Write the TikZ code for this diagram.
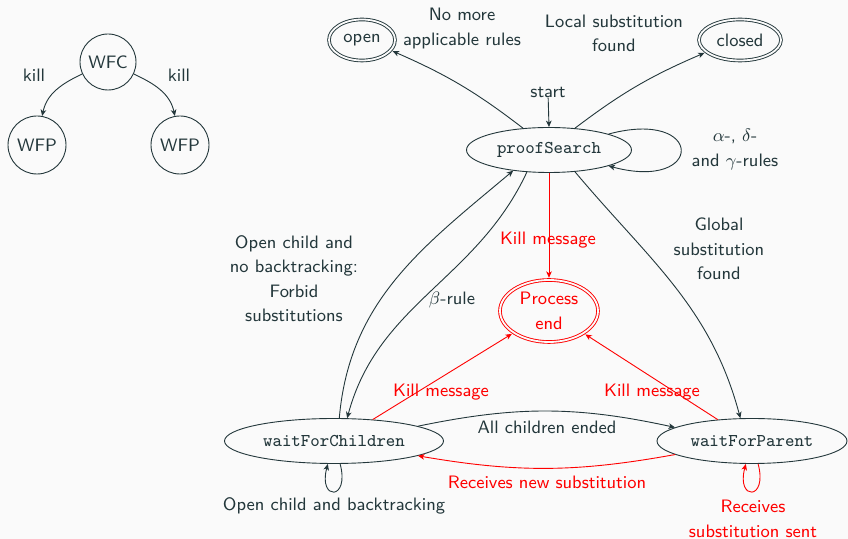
\documentclass[tikz,border=0pt]{standalone}
\usetikzlibrary{shapes.geometric,arrows.meta}
\definecolor{mdark}{HTML}{23373B}
\definecolor{mbg}{HTML}{FAFAFA}
\definecolor{mred}{HTML}{FF0000}
\begin{document}
\begin{tikzpicture}[x={(0.5pt,0)},y={(0,-0.5pt)},
  >={Stealth[length=3.2pt,width=2.8pt,inset=0.9pt]},
  every node/.style={font=\sffamily\fontsize{9}{12.2}\selectfont,text=mdark},
  base/.style={draw=mdark,line width=0.45pt},
  conn/.style={base,->},
  rconn/.style={draw=mred,line width=0.45pt,->},
  state/.style={ellipse,base,minimum height=22.5pt,inner sep=0pt,font=\ttfamily\fontsize{9}{11}\selectfont},
  final/.style={ellipse,base,double=mbg,double distance=0.9pt,inner sep=0pt,outer sep=1.1pt},
  tree/.style={circle,base,inner sep=0pt},
  lbl/.style={align=center,inner sep=0pt},
  rlbl/.style={lbl,text=mred},
  every loop/.style={}]
\fill[mbg] (0,0) rectangle (848,539);
\useasboundingbox (0,0) rectangle (848,539);

% left tree
\node[tree,minimum size=28pt] (wfct) at (108,62) {WFC};
\node[tree,minimum size=29pt] (wfpl) at (37,145) {WFP};
\node[tree,minimum size=29pt] (wfpr) at (180,145) {WFP};
\node[lbl] (killl) at (34,75) {kill};
\node[lbl] (killr) at (179,75) {kill};
\draw[conn] (wfct.205) to[out=205,in=78] (wfpl.80);
\draw[conn] (wfct.-25) to[out=-25,in=102] (wfpr.100);

% states
\node[final,minimum width=33pt,minimum height=20.5pt] (open) at (362,40) {open};
\node[final,minimum width=41pt,minimum height=20.5pt] (closed) at (740,40) {closed};
\node[state,minimum width=82.5pt] (ps) at (549,150) {proofSearch};
\node[final,draw=mred,text=mred,minimum width=49pt,minimum height=31pt,align=center] (pe) at (549,311) {Process\\end};
\node[state,minimum width=109.5pt] (wfc) at (334,441) {waitForChildren};
\node[state,minimum width=95pt] (wfp) at (752,441) {waitForParent};

% labels
\node[lbl] (start) at (548,92) {start};
\node[lbl] (nomore) at (462,28.5) {No more\\applicable rules};
\node[lbl] (local) at (614,33.5) {Local substitution\\found};
\node[lbl] (rules) at (735,149.5) {$\alpha$-, $\delta$-\\and $\gamma$-rules};
\node[lbl] (global) at (719,249) {Global\\substitution\\found};
\node[lbl] (forbid) at (294,278.5) {Open child and\\no backtracking:\\Forbid\\substitutions};
\node[lbl] (beta) at (452,300) {$\beta$-rule};
\node[lbl] (allch) at (547,427) {All children ended};
\node[lbl] (openback) at (334,506) {Open child and backtracking};
\node[rlbl] (kill1) at (548,240) {Kill message};
\node[rlbl] (kill2) at (441,392) {Kill message};
\node[rlbl] (kill3) at (652,392) {Kill message};
\node[rlbl] (recnew) at (547,482) {Receives new substitution};
\node[rlbl] (recsent) at (753,519) {Receives\\substitution sent};

% connectors
\draw[conn] (start) -- (ps.north);
\draw[conn] (ps.140) to[bend right=7] (open.-20);
\draw[conn] (ps.40) to[bend left=7] (closed.200);
\draw[conn] (ps) to[loop right] ();
\draw[rconn] (ps) -- (pe);
\draw[conn] (wfc.77) to[out=85,in=220] (ps.210);
\draw[conn] (ps.225) to[out=245,in=75] (wfc.60);
\draw[conn] (ps.-40) to[out=-50,in=105] (wfp.117);
\draw[rconn] (wfc.29) -- (pe);
\draw[rconn] (wfp.148) -- (pe);
\draw[conn] (wfc.10) to[bend left=12] (wfp.170);
\draw[rconn] (wfp.190) to[bend left=10] (wfc.-10);
\draw[conn] (wfc) to[loop below] ();
\draw[rconn] (wfp) to[loop below] ();
\end{tikzpicture}
\end{document}
